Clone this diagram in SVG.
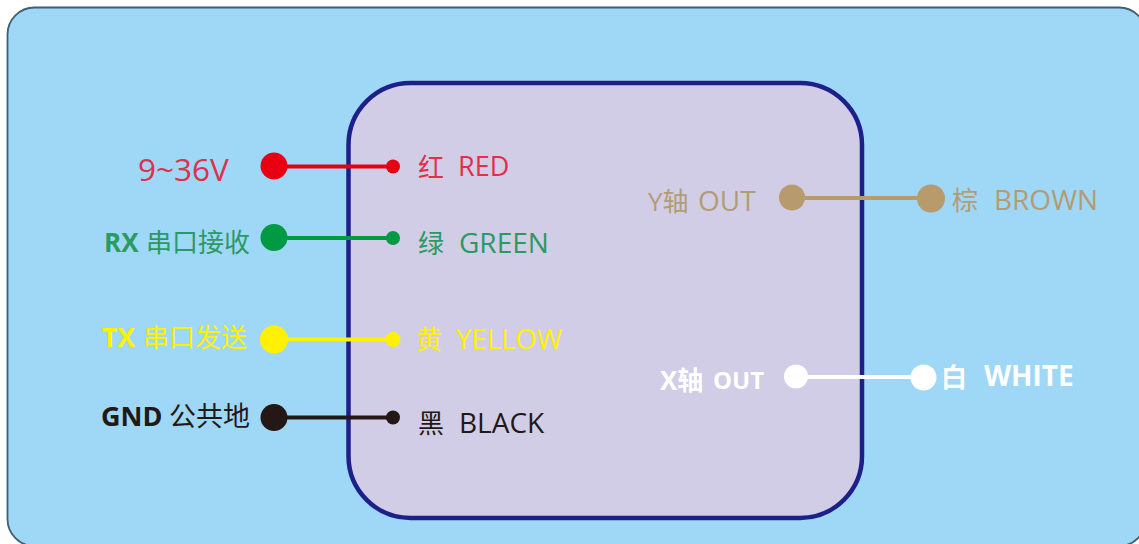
<svg xmlns="http://www.w3.org/2000/svg" width="1139" height="544" viewBox="0 0 1139 544">
<style>
text{font-family:"Open Sans","Noto Sans CJK SC","Noto Sans",sans-serif;font-size:27px;white-space:pre}
.b{font-weight:700}
.c{font-size:26px}
.w{stroke-width:4;fill:none}
.red{fill:#e60012}.redl{stroke:#e60012}.rt{fill:#e0304a}
.green{fill:#009944}.greenl{stroke:#009944}.gt{fill:#2a9a62}
.yellow{fill:#fff100}.yellowl{stroke:#fff100}
.black{fill:#231815}.blackl{stroke:#231815}
.brown{fill:#b89b6c}.brownl{stroke:#b89b6c}.bt{fill:#b39c74}
.white{fill:#fff}.whitel{stroke:#fff}
</style>
<rect width="1139" height="544" fill="#fff"/>
<rect id="panel" x="7.500" y="7.500" width="1138.500" height="538.500" rx="27" fill="#9fd7f6" stroke="#3f5f75" stroke-width="1.800"/>
<rect id="device" x="348.500" y="83" width="513.500" height="435" rx="62" fill="#d2cde7" stroke="#1d2088" stroke-width="4.500"/>
<g id="connectors">
<line class="w redl" x1="274" y1="166.500" x2="393" y2="166.500"/>
<line class="w greenl" x1="274" y1="238" x2="393" y2="238"/>
<line class="w yellowl" x1="274" y1="339.500" x2="393" y2="339.500"/>
<line class="w blackl" x1="274" y1="417.500" x2="393" y2="417.500"/>
<line class="w brownl" x1="792" y1="198" x2="931" y2="198"/>
<line class="w whitel" x1="796" y1="377" x2="923" y2="377"/>
</g>
<g id="node-red">
<circle class="red" cx="274" cy="166" r="13.500"/><circle class="red" cx="393" cy="166.500" r="7"/>
<text class="rt" x="138" y="181" style="font-size:31.500px">9~36V</text>
<text class="rt c" x="418" y="177">红</text><text class="rt" x="458" y="176">RED</text>
</g>
<g id="node-green">
<circle class="green" cx="274" cy="237.500" r="13.500"/><circle class="green" cx="393" cy="238" r="7"/>
<text class="gt b" x="104" y="252" style="font-size:26px">RX</text><text class="gt c" x="146" y="252">串口接收</text>
<text class="gt c" x="418" y="253">绿</text><text class="gt" x="459" y="253" style="font-size:28px">GREEN</text>
</g>
<g id="node-yellow">
<circle class="yellow" cx="274" cy="339.500" r="14"/><circle class="yellow" cx="393" cy="339.500" r="7.500"/>
<text class="yellow b" x="102" y="347" style="font-size:26.500px">TX</text><text class="yellow c" x="143" y="347">串口发送</text>
<text class="yellow c" x="416" y="349">黄</text><text class="yellow" x="456" y="349" style="font-size:27.500px">YELLOW</text>
</g>
<g id="node-black">
<circle class="black" cx="274" cy="417.500" r="13.500"/><circle class="black" cx="393" cy="417.500" r="7"/>
<text class="black b" x="101" y="426" style="font-size:27px">GND</text><text class="black c" x="169" y="426" style="font-size:27px">公共地</text>
<text class="black c" x="418" y="433">黑</text><text class="black" x="459" y="433" style="font-size:28px">BLACK</text>
</g>
<g id="node-brown">
<circle class="brown" cx="792" cy="197.500" r="13"/><circle class="brown" cx="931" cy="198.500" r="14"/>
<text class="bt" x="648" y="211" style="font-size:26px">Y轴</text><text class="bt" x="698" y="211" style="font-size:28px">OUT</text>
<text class="bt c" x="952" y="210">棕</text><text class="bt" x="994" y="210" style="font-size:28px">BROWN</text>
</g>
<g id="node-white">
<circle class="white" cx="796" cy="376.500" r="12"/><circle class="white" cx="923.500" cy="377.500" r="13"/>
<text class="white b" x="660" y="390" style="font-size:26px">X轴</text><text class="white b" x="713" y="389" style="font-size:24px">OUT</text>
<text class="white b c" x="941" y="387">白</text><text class="white b" x="984" y="386" style="font-size:28px">WHITE</text>
</g>
</svg>
